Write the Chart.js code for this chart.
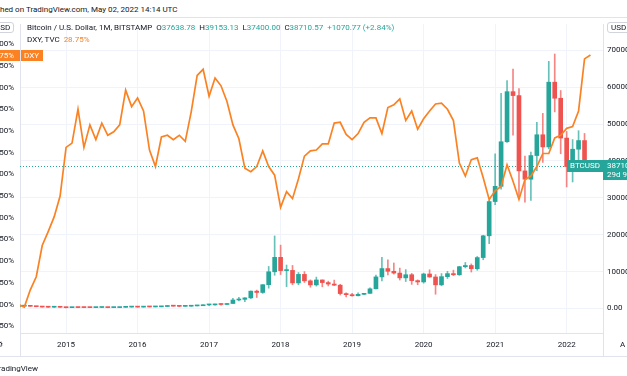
<!DOCTYPE html>
<html>
<head>
<meta charset="utf-8">
<script src="https://cdn.jsdelivr.net/npm/chart.js@4/dist/chart.umd.min.js"></script>
<style>
  html, body { margin: 0; padding: 0; background: #fff; width: 627px; height: 376px; overflow: hidden; position: relative; font-family: Roboto, "Noto Sans", sans-serif; color: #131722; }
  .t { position: absolute; font-size: 8px; line-height: 10px; white-space: nowrap; }
  .hl { position: absolute; left: 0; width: 627px; height: 1px; background: #e0e3eb; }
  .vl { position: absolute; width: 1px; background: #e0e3eb; }
  .box { position: absolute; border: 1px solid #d1d4dc; border-radius: 3px; font-size: 8px; line-height: 9px; padding: 0 3px; }
  #chart { position: absolute; left: -30px; top: 13px; }
  .g { color: #26a69a; }
  .o { color: #fa8223; }
</style>
</head>
<body>
<div class="t" style="left:-22px; top:5px;">Published on TradingView.com, May 02, 2022 14:14 UTC</div>
<div class="hl" style="top:17px;"></div>
<canvas id="chart" width="693" height="343"></canvas>
<div class="t" style="left:27px; top:23px;">Bitcoin / U.S. Dollar, 1M, BITSTAMP&nbsp;&nbsp;O<span class="g">37638.78</span>&nbsp;&nbsp;H<span class="g">39153.13</span>&nbsp;&nbsp;L<span class="g">37400.00</span>&nbsp;&nbsp;C<span class="g">38710.57</span>&nbsp;&nbsp;<span class="g">+1070.77 (+2.84%)</span></div>
<div class="t" style="left:27px; top:35px;">DXY, TVC&nbsp;&nbsp;<span class="o">28.75%</span></div>
<div class="box" style="left:-9px; top:22px;">USD</div>
<div class="box" style="left:607px; top:22px;">USD</div>
<div class="hl" style="top:356px;"></div>
<div class="vl" style="left:20px; top:333px; height:23px;"></div>
<div class="vl" style="left:603px; top:333px; height:23px;"></div>
<div class="t" style="left:620px; top:340px;">A</div>
<div class="t" style="left:-4px; top:340px;">⚙</div>
<div class="t" style="left:-6px; top:364px;">TradingView</div>
<script>
// monthly bars, May 2014 .. May 2022 (index 0 = May 2014)
const yearLabels = ['2015', '2016', '2017', '2018', '2019', '2020', '2021', '2022'];
const yearIndex = [8, 20, 32, 44, 56, 68, 80, 92];
const pctTicks = [-2.5, 0, 2.5, 5, 7.5, 10, 12.5, 15, 17.5, 20, 22.5, 25, 27.5, 30];
const priceTicks = [0, 10000, 20000, 30000, 40000, 50000, 60000, 70000];

// DXY, % change since first bar
const dxyPct = [
  0.0, -0.3, 1.7, 3.2, 6.8, 8.4, 10.1, 12.5,
  18.1, 18.6, 22.5, 18.1, 20.7, 19.0, 20.9, 19.5, 19.9, 20.7, 24.7, 22.8,
  23.8, 22.3, 17.8, 15.9, 19.3, 19.5, 19.0, 19.5, 18.8, 22.2, 26.4, 27.1,
  24.0, 26.1, 25.2, 23.4, 20.7, 19.1, 15.7, 15.3, 15.9, 17.7, 15.9, 14.9,
  11.2, 13.0, 12.2, 14.5, 17.1, 17.7, 17.8, 18.5, 18.5, 20.9, 21.0, 19.6,
  19.0, 19.7, 21.0, 21.5, 21.5, 19.7, 22.7, 23.0, 23.7, 21.2, 22.3, 20.2,
  21.4, 22.3, 23.1, 23.2, 22.5, 21.2, 16.3, 14.8, 16.7, 16.9, 14.6, 12.1,
  13.1, 13.6, 16.1, 14.2, 12.1, 14.4, 14.8, 15.9, 17.4, 17.4, 19.2, 19.5,
  20.3, 20.5, 22.3, 28.3, 28.75
];

// BTCUSD monthly OHLC
const btcOpen = [
  447, 627, 640, 586, 478, 386, 338, 378,
  320, 218, 254, 244, 236, 230, 263, 284, 230, 236, 312, 378,
  431, 368, 437, 416, 448, 531, 673, 624, 574, 609, 698, 742,
  964, 969, 1190, 1080, 1348, 2300, 2480, 2865, 4700, 4340, 6450, 9950,
  13860, 10265, 10330, 6925, 9245, 7490, 6390, 7730, 7020, 6625, 6320, 4040,
  3740, 3450, 3830, 4100, 5330, 8560, 10820, 10080, 9600, 8300, 9150, 7550,
  7195, 9350, 8540, 6410, 8630, 9450, 9140, 11330, 11650, 10780, 13800, 19700,
  28990, 33110, 45200, 58780, 57720, 37300, 35040, 41460, 47100, 43800, 61350, 57000,
  46200, 38470, 43180, 45530, 37638.78
];
const btcHigh = [
  630, 679, 660, 600, 495, 419, 457, 382,
  320, 265, 300, 261, 247, 268, 318, 284, 243, 335, 500, 467,
  462, 445, 439, 467, 549, 780, 704, 625, 629, 719, 756, 980,
  1153, 1210, 1290, 1350, 2760, 3000, 2930, 4750, 4980, 6470, 11400, 19666,
  17176, 11780, 11665, 9760, 9990, 7770, 8500, 7745, 7410, 7690, 6560, 4260,
  4100, 4210, 4140, 5600, 9080, 13880, 13200, 12330, 10950, 10540, 9510, 7750,
  9580, 10500, 9190, 9460, 10080, 10390, 11440, 12470, 12080, 14100, 19850, 29300,
  41950, 58330, 61790, 64900, 59600, 41330, 42400, 50500, 52900, 67000, 69000, 59100,
  47990, 45800, 48200, 47450, 39153.13
];
const btcLow = [
  440, 551, 565, 450, 360, 275, 313, 300,
  152, 212, 236, 214, 225, 221, 253, 198, 225, 236, 300, 352,
  350, 365, 404, 414, 437, 520, 600, 465, 570, 604, 683, 741,
  752, 928, 890, 1075, 1348, 2070, 1830, 2700, 2980, 4100, 5500, 9000,
  9200, 5920, 6430, 6430, 7040, 5755, 6070, 5880, 6110, 6200, 3650, 3120,
  3350, 3390, 3730, 4080, 5330, 7480, 9070, 9320, 7710, 7300, 6530, 6430,
  6870, 8460, 3850, 6150, 8120, 8910, 8980, 10990, 9880, 10360, 13210, 17570,
  28150, 32330, 45000, 47000, 30000, 28800, 29300, 37350, 39600, 43300, 53300, 41950,
  32950, 34300, 37200, 37600, 37400
];
const btcClose = [
  627, 640, 586, 478, 386, 338, 378, 320,
  218, 254, 244, 236, 230, 263, 284, 230, 236, 312, 378, 431,
  368, 437, 416, 448, 531, 673, 624, 574, 609, 698, 742, 964,
  969, 1190, 1080, 1348, 2300, 2480, 2865, 4700, 4340, 6450, 9950, 13860,
  10265, 10330, 6925, 9245, 7490, 6390, 7730, 7020, 6625, 6320, 4040, 3740,
  3450, 3830, 4100, 5330, 8560, 10820, 10080, 9600, 8300, 9150, 7550, 7195,
  9350, 8540, 6410, 8630, 9450, 9140, 11330, 11650, 10780, 13800, 19700, 28990,
  33110, 45200, 58780, 57720, 37300, 35040, 41460, 47100, 43800, 61350, 57000, 46200,
  38470, 43180, 45530, 37640, 38710.57
];

const UP = '#26a69a', DOWN = '#ef5350', ORANGE = '#fa8223';
const UP_WICK = 'rgba(38,166,154,0.7)', DOWN_WICK = 'rgba(239,83,80,0.7)';
const GRID = '#f0f3fa', BORDER = '#e0e3eb';
const last = btcClose.length - 1;

Chart.defaults.font.family = 'Roboto, "Noto Sans", sans-serif';
Chart.defaults.font.size = 8;
Chart.defaults.font.lineHeight = 1.25;
Chart.defaults.color = '#131722';

const upDown = btcClose.map((c, i) => c >= btcOpen[i] ? UP : DOWN);
const wickColors = btcClose.map((c, i) => c >= btcOpen[i] ? UP_WICK : DOWN_WICK);

// labels drawn on top: last price line, BTCUSD / DXY tags
const overlay = {
  id: 'overlay',
  beforeDatasetsDraw(chart) {
    const { ctx, chartArea: a, scales } = chart;
    const y = Math.round(scales.yPrice.getPixelForValue(btcClose[last])) + 0.5;
    ctx.save();
    ctx.strokeStyle = UP;
    ctx.lineWidth = 1;
    ctx.setLineDash([1, 2]);
    ctx.beginPath();
    ctx.moveTo(a.left, y);
    ctx.lineTo(a.right, y);
    ctx.stroke();
    ctx.restore();
  },
  afterDraw(chart) {
    const { ctx, chartArea: a, scales } = chart;
    ctx.save();
    ctx.font = '8px Roboto, "Noto Sans", sans-serif';
    ctx.textBaseline = 'middle';

    // BTC last price
    const yb = Math.round(scales.yPrice.getPixelForValue(btcClose[last]));
    ctx.fillStyle = UP;
    ctx.fillRect(a.right - 36, yb - 6, 36, 12);
    ctx.fillRect(a.right, yb - 6, 60, 20);
    ctx.fillStyle = '#fff';
    ctx.textAlign = 'center';
    ctx.fillText('BTCUSD', a.right - 18, yb);
    ctx.textAlign = 'left';
    ctx.fillText(btcClose[last].toFixed(2), a.right + 4, yb);
    ctx.fillText('29d 9h', a.right + 4, yb + 9);

    // DXY last value
    const yd = Math.round(scales.yPct.getPixelForValue(dxyPct[last]));
    ctx.fillStyle = ORANGE;
    ctx.fillRect(0, yd - 5, a.left, 11);
    ctx.fillRect(a.left + 1, yd - 5, 22, 11);
    ctx.fillStyle = '#fff';
    ctx.textAlign = 'right';
    ctx.fillText(dxyPct[last].toFixed(2) + '%', a.left - 6, yd + 0.5);
    ctx.textAlign = 'left';
    ctx.fillText('DXY', a.left + 4, yd + 0.5);
    ctx.restore();
  }
};

new Chart(document.getElementById('chart'), {
  type: 'bar',
  data: {
    datasets: [
      {
        type: 'line',
        label: 'DXY',
        data: dxyPct.map((v, i) => ({ x: i, y: v })),
        yAxisID: 'yPct',
        borderColor: ORANGE,
        borderWidth: 1.7,
        pointRadius: 0,
        tension: 0,
        order: 0
      },
      {
        label: 'BTCUSD body',
        data: btcOpen.map((o, i) => ({ x: i, y: [Math.min(o, btcClose[i]), Math.max(o, btcClose[i])] })),
        yAxisID: 'yPrice',
        backgroundColor: upDown,
        barThickness: 4,
        minBarLength: 1,
        grouped: false,
        order: 1
      },
      {
        label: 'BTCUSD wick',
        data: btcLow.map((l, i) => ({ x: i, y: [l, btcHigh[i]] })),
        yAxisID: 'yPrice',
        backgroundColor: wickColors,
        barThickness: 1,
        grouped: false,
        order: 2
      }
    ]
  },
  options: {
    responsive: false,
    animation: false,
    layout: { padding: 0 },
    plugins: { legend: { display: false }, tooltip: { enabled: false } },
    scales: {
      x: {
        type: 'linear',
        bounds: 'data',
        offset: false,
        min: 0.27,
        max: 98.1,
        afterFit: s => { s.height = 23; },
        afterBuildTicks: s => { s.ticks = yearIndex.map(v => ({ value: v })); },
        ticks: {
          autoSkip: false,
          maxRotation: 0,
          padding: 7,
          callback: v => yearLabels[yearIndex.indexOf(v)]
        },
        grid: { color: GRID, drawTicks: false, offset: false },
        border: { color: BORDER }
      },
      yPct: {
        type: 'linear',
        position: 'left',
        bounds: 'data',
        min: -3.28,
        max: 32.32,
        afterFit: s => { s.width = 50; },
        afterBuildTicks: s => { s.ticks = pctTicks.map(v => ({ value: v })); },
        ticks: {
          autoSkip: false,
          padding: 6,
          callback: v => v.toFixed(2) + '%'
        },
        grid: { drawOnChartArea: false, drawTicks: false },
        border: { color: BORDER }
      },
      yPrice: {
        type: 'linear',
        position: 'right',
        bounds: 'data',
        min: -6649,
        max: 77128,
        afterFit: s => { s.width = 60; },
        afterBuildTicks: s => { s.ticks = priceTicks.map(v => ({ value: v })); },
        ticks: {
          autoSkip: false,
          padding: 4,
          callback: v => v.toFixed(2)
        },
        grid: { color: GRID, drawTicks: false },
        border: { color: BORDER }
      }
    }
  },
  plugins: [overlay]
});
</script>
</body>
</html>
